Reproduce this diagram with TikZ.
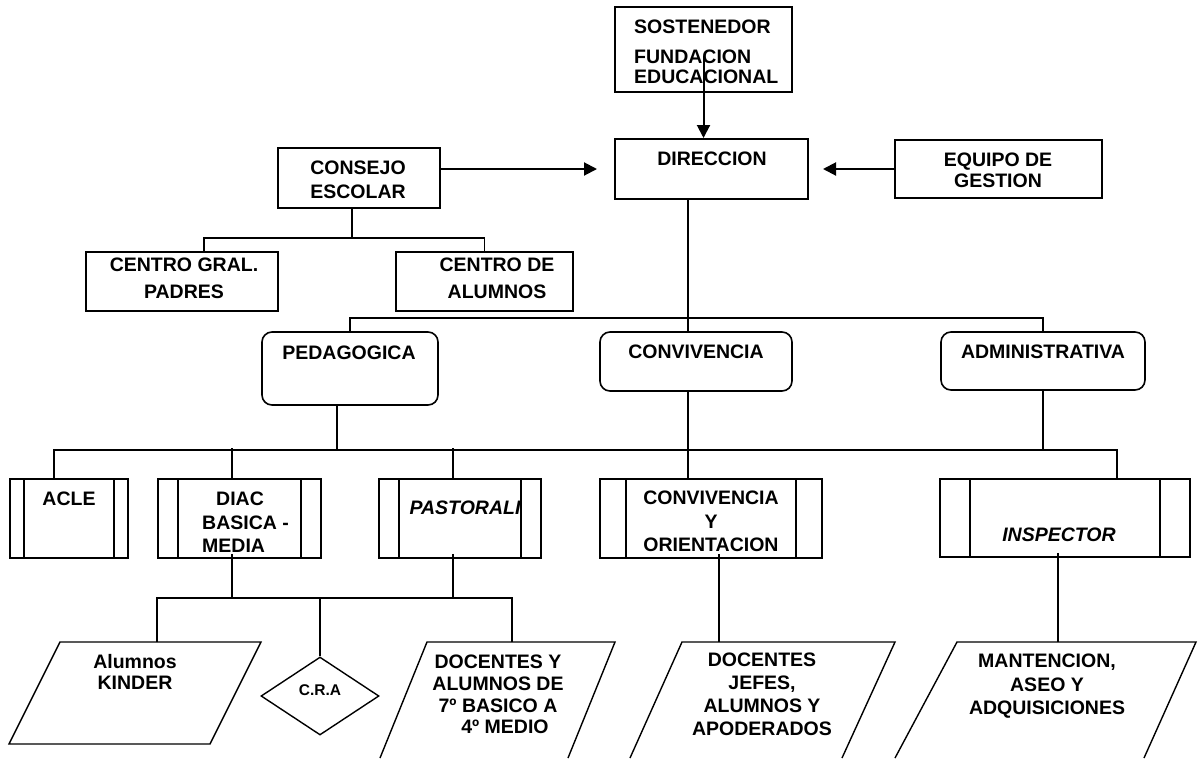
\documentclass[tikz,border=0pt]{standalone}
\usepackage{fontspec}
\setmainfont{Liberation Sans}
\newfontfamily\arialbd{Liberation Sans Bold}
\newfontfamily\arialbi{Liberation Sans Bold Italic}
\usetikzlibrary{arrows.meta,shapes.geometric}
\tikzset{
  box/.style={draw, line width=2pt, inner sep=0pt},
  rbox/.style={draw, line width=1.6pt, rounded corners=10pt, inner sep=0pt},
  proc/.style={draw, line width=1.8pt, inner sep=0pt,
    path picture={
      \draw[line width=1.5pt] ([xshift=#1]path picture bounding box.north west) -- ([xshift=#1]path picture bounding box.south west);
      \draw[line width=1.5pt] ([xshift=-#1]path picture bounding box.north east) -- ([xshift=-#1]path picture bounding box.south east);
    }},
  txt/.style={inner sep=0pt, anchor=north, align=center, font=\arialbd\fontsize{19.5pt}{#1}\selectfont},
  txt/.default=23pt,
  arr/.style={line width=2pt, -{Triangle[width=13pt,length=13pt]}},
  conn/.style={line width=1.6pt},
  para/.style={line width=1.4pt, line join=miter}
}
\begin{document}
\begin{tikzpicture}[x=1pt,y=-1pt]
    \useasboundingbox (0,0) rectangle (1199,758);
    % Top: sostenedor, direccion and the two boxes beside it
    \node[box, minimum width=177pt, minimum height=85pt] (sost) at (703.5,49.5) {};
    \node[txt=20pt, anchor=north west, align=left] (sostT) at (634,20) {SOSTENEDOR\\[10pt]FUNDACION\\EDUCACIONAL};
    \node[box, minimum width=193pt, minimum height=60pt] (dir) at (711.5,169) {};
    \node[txt] (dirT) at (712,152) {DIRECCION};
    \node[box, minimum width=207pt, minimum height=58pt] (equipo) at (998.5,169) {};
    \node[txt=21pt] (equipoT) at (998,153) {EQUIPO DE\\GESTION};
    \node[box, minimum width=162pt, minimum height=60pt] (consejo) at (359,178) {};
    \node[txt=24pt] (consejoT) at (358,161) {CONSEJO\\ESCOLAR};
    \node[box, minimum width=192pt, minimum height=59pt] (cgp) at (182,281.5) {};
    \node[txt=27pt] (cgpT) at (184,258) {CENTRO GRAL.\\PADRES};
    \node[box, minimum width=177pt, minimum height=59pt] (cda) at (484.5,281.5) {};
    \node[txt=27pt] (cdaT) at (497,258) {CENTRO DE\\ALUMNOS};
    \draw[arr] ([yshift=-6pt]sost.center) -- (sost.center |- dir.north);
    \draw[arr, shorten >=14pt] (equipo.west) -- (equipo.west -| dir.east);
    \draw[arr, shorten >=17pt] (consejo.east |- dir.west) -- (dir.west);
    \draw[conn] ([xshift=-7pt]consejo.south) -- ++(0,29) coordinate (cjbus);
    \draw[conn] ([xshift=22pt]cgp.north) |- (cjbus) -| (cda.north);
    % The three areas under direccion
    \node[rbox, minimum width=176pt, minimum height=73pt] (ped) at (350,368.5) {};
    \node[txt] (pedT) at (349,346) {PEDAGOGICA};
    \node[rbox, minimum width=192pt, minimum height=59pt] (conv) at (696,361.5) {};
    \node[txt] (convT) at (696,345) {CONVIVENCIA};
    \node[rbox, minimum width=204pt, minimum height=58pt] (adm) at (1043,361) {};
    \node[txt] (admT) at (1043,345) {ADMINISTRATIVA};
    \draw[conn] ([xshift=-23.5pt]dir.south) -- ++(0,118) coordinate (dirbus);
    \draw[conn] (ped.north) |- (dirbus) -| (adm.north);
    \draw[conn] (dirbus) -- (dirbus |- conv.north);
    % Process boxes
    \node[proc=14pt, minimum width=118pt, minimum height=79pt] (acle) at (69,518.5) {};
    \node[txt] (acleT) at (69,492) {ACLE};
    \node[proc=20pt, minimum width=163pt, minimum height=79pt] (diac) at (239.5,518.5) {};
    \node[txt=23.5pt, anchor=north west, align=left] (diacT) at (202,492) {\hspace*{14pt}DIAC\\BASICA -\\MEDIA};
    \node[proc=20pt, minimum width=162pt, minimum height=79pt] (past) at (460,518.5) {};
    \node[txt] (pastT) at (465,501) {\arialbi PASTORALI};
    \node[proc=26pt, minimum width=222pt, minimum height=79pt] (cyo) at (711,518.5) {};
    \node[txt=23.5pt] (cyoT) at (711,491) {CONVIVENCIA\\Y\\ORIENTACION};
    \node[proc=30pt, minimum width=250pt, minimum height=78pt] (insp) at (1065,518) {};
    \node[txt] (inspT) at (1059,528) {\arialbi INSPECTOR};
    \draw[conn] ([xshift=-13pt]ped.south) -- ++(0,44) coordinate (pedbus);
    \draw[conn] ([xshift=-15pt]acle.north) |- (pedbus) -| ([xshift=52pt]insp.north);
    \draw[conn] ([xshift=-7.5pt]diac.north) -- ++(0,-30);
    \draw[conn] ([xshift=-7pt]past.north) -- ++(0,-30);
    \draw[conn] (dirbus |- conv.south) -- (dirbus |- cyo.north);
    \draw[conn] (adm.south) -- (adm.south |- pedbus);
    % Bottom row: data shapes and the C.R.A decision
    \draw[para] (60,642) -- (261,642) -- (210,744) -- (9,744) -- cycle;
    \draw[para] (380,758) -- (427,642) -- (615,642) -- (568,758);
    \draw[para] (630,758) -- (682,642) -- (895,642) -- (842,758);
    \draw[para] (895,758) -- (957,642) -- (1196,642) -- (1144,758);
    \coordinate (kin) at (157,642);
    \coordinate (doc1) at (512,642);
    \coordinate (doc2) at (719,642);
    \coordinate (mant) at (1058,642);
    \node[txt=21pt] (kinT) at (135,654) {Alumnos\\KINDER};
    \node[draw, diamond, line width=1.4pt, minimum width=118pt, minimum height=78pt, inner sep=0pt, text depth=12pt, font=\arialbd\fontsize{15.5pt}{18pt}\selectfont] (cra) at (320,696) {C.R.A};
    \node[txt=21.7pt] (doc1T) at (498,655) {DOCENTES Y\\ALUMNOS DE\\7º BASICO A\hspace*{24pt}\\ \hspace*{14pt}4º MEDIO};
    \node[txt] (doc2T) at (762,653) {DOCENTES\\JEFES,\\ALUMNOS Y\\APODERADOS};
    \node[txt=23.5pt] (mantT) at (1047,654) {MANTENCION,\\ASEO Y\\ADQUISICIONES};
    \draw[conn] ([xshift=-7.5pt,yshift=5pt]diac.south) -- ++(0,44) coordinate (diacbus);
    \draw[conn] ([xshift=-7pt,yshift=5pt]past.south) -- ++(0,44);
    \draw[conn] (kin) |- (diacbus) -| (doc1);
    \draw[conn] (cra.north) -- (cra.north |- diacbus);
    \draw[conn] ([xshift=8pt,yshift=5pt]cyo.south) -- (doc2);
    \draw[conn] ([xshift=-7pt,yshift=5pt]insp.south) -- (mant);
\end{tikzpicture}
\end{document}
